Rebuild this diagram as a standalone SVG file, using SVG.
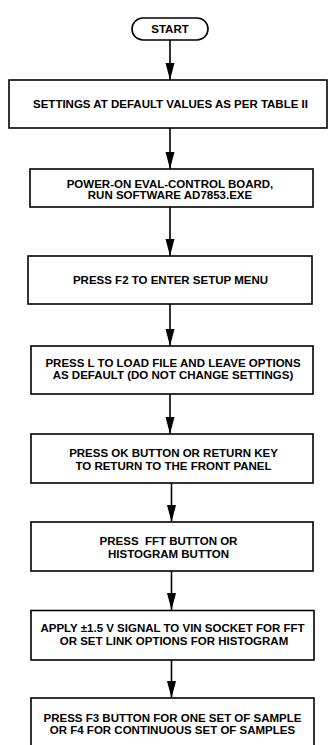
<svg xmlns="http://www.w3.org/2000/svg" width="328" height="745" viewBox="0 0 328 745">
<style>
.box{fill:#fff;stroke:#000;stroke-width:1.6}
.t{font-family:"Liberation Sans",Arial,Helvetica,sans-serif;font-weight:bold;font-size:11.5px;fill:#000;text-anchor:middle;white-space:pre}
.c{stroke:#000;stroke-width:1.6;fill:none;marker-end:url(#ah)}
</style>
<defs>
<marker id="ah" markerUnits="userSpaceOnUse" markerWidth="18" markerHeight="10" viewBox="0 0 18 10" refX="17" refY="5" orient="auto">
<path d="M0,0.5 L17,5 L0,9.5 Z" fill="#000"/>
</marker>
</defs>
<rect width="328" height="745" fill="#fff"/>
<g id="connectors">
<line class="c" x1="170" y1="40" x2="170" y2="80"/>
<line class="c" x1="170" y1="128" x2="170" y2="169"/>
<line class="c" x1="170" y1="207" x2="170" y2="256"/>
<line class="c" x1="170" y1="304" x2="170" y2="346"/>
<line class="c" x1="170" y1="394" x2="170" y2="434"/>
<line class="c" x1="171.5" y1="483" x2="171.5" y2="522"/>
<line class="c" x1="171.5" y1="571" x2="171.5" y2="610"/>
<line class="c" x1="171.5" y1="660" x2="171.5" y2="698"/>
</g>
<g id="start">
<rect class="box" x="132" y="18" width="76" height="22" rx="11" ry="11"/>
<text class="t" x="170" y="33">START</text>
</g>
<g id="step1">
<rect class="box" x="9" y="80" width="318" height="48"/>
<text class="t" x="170.5" y="108">SETTINGS AT DEFAULT VALUES AS PER TABLE II</text>
</g>
<g id="step2">
<rect class="box" x="30" y="169" width="283" height="38"/>
<text class="t" x="170" y="188">POWER-ON EVAL-CONTROL BOARD,</text>
<text class="t" x="170" y="199">RUN SOFTWARE AD7853.EXE</text>
</g>
<g id="step3">
<rect class="box" x="28" y="256" width="284" height="48"/>
<text class="t" x="170.5" y="284">PRESS F2 TO ENTER SETUP MENU</text>
</g>
<g id="step4">
<rect class="box" x="31" y="346" width="282" height="48"/>
<text class="t" x="173" y="367">PRESS L TO LOAD FILE AND LEAVE OPTIONS</text>
<text class="t" x="173" y="379">AS DEFAULT (DO NOT CHANGE SETTINGS)</text>
</g>
<g id="step5">
<rect class="box" x="31" y="434" width="282" height="49"/>
<text class="t" x="173.5" y="457">PRESS OK BUTTON OR RETURN KEY</text>
<text class="t" x="173.5" y="469.5">TO RETURN TO THE FRONT PANEL</text>
</g>
<g id="step6">
<rect class="box" x="31" y="522" width="282" height="49"/>
<text class="t" x="168.5" y="545">PRESS  FFT BUTTON OR</text>
<text class="t" x="168.5" y="558">HISTOGRAM BUTTON</text>
</g>
<g id="step7">
<rect class="box" x="31" y="610.5" width="283" height="49.5"/>
<text class="t" x="172.5" y="632">APPLY ±1.5 V SIGNAL TO VIN SOCKET FOR FFT</text>
<text class="t" x="174" y="645">OR SET LINK OPTIONS FOR HISTOGRAM</text>
</g>
<g id="step8">
<rect class="box" x="31" y="698" width="283" height="60"/>
<text class="t" x="172.5" y="722">PRESS F3 BUTTON FOR ONE SET OF SAMPLE</text>
<text class="t" x="172.5" y="734">OR F4 FOR CONTINUOUS SET OF SAMPLES</text>
</g>
</svg>
